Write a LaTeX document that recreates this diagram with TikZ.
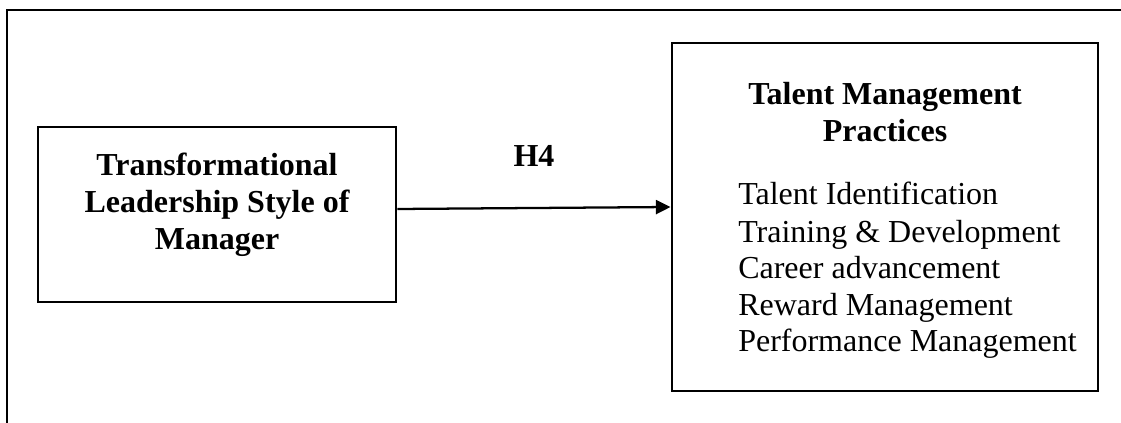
\documentclass[tikz,border=0pt]{standalone}
\usepackage{fontspec}
\setmainfont{Liberation Serif}
\usetikzlibrary{arrows.meta,calc}
\begin{document}
\begin{tikzpicture}[x=0.75pt,y=-0.75pt,
  frame/.style={line width=2pt},
  box/.style={draw,line width=2.2pt,rectangle,inner sep=0pt},
  arr/.style={line width=1.7pt,-{Triangle[length=11pt,width=10.5pt]}},
  head/.style={anchor=base,inner sep=0pt,font=\fontsize{24pt}{27.75pt}\selectfont\bfseries},
  item/.style={anchor=base west,inner sep=0pt,font=\fontsize{24pt}{27.75pt}\selectfont}]
\useasboundingbox (0,0) rectangle (1121,423);
% open frame: top and left edges
\coordinate (fr) at (1121,10);
\coordinate (fc) at (7,10);
\coordinate (fb) at (7,423);
\draw[frame] (fr) -- (fc) -- (fb);
% boxes
\node[box,minimum width=268.5pt,minimum height=131.25pt] (L) at (217,214.5) {};
\node[box,minimum width=319.5pt,minimum height=261pt] (R) at (885,217) {};
% left box text
\node[head] (l1) at (217,176) {Transformational};
\node[head] (l2) at (217,213) {Leadership Style of};
\node[head] (l3) at (217,250) {Manager};
% right box heading
\node[head] (r1) at (885,105) {Talent Management};
\node[head] (r2) at (885,142) {Practices};
% right box items
\node[item] (i1) at (738,205) {Talent Identification};
\node[item] (i2) at (738,242.5) {Training \& Development};
\node[item] (i3) at (738,279) {Career advancement};
\node[item] (i4) at (738,315.5) {Reward Management};
\node[item] (i5) at (738,352) {Performance Management};
% hypothesis label and arrow
\node[head] (h4) at (534,167) {H4};
\draw[arr] ($(L.east)+(0,-5.5)$) -- ($(R.west)+(0,-10)$);
\end{tikzpicture}
\end{document}
